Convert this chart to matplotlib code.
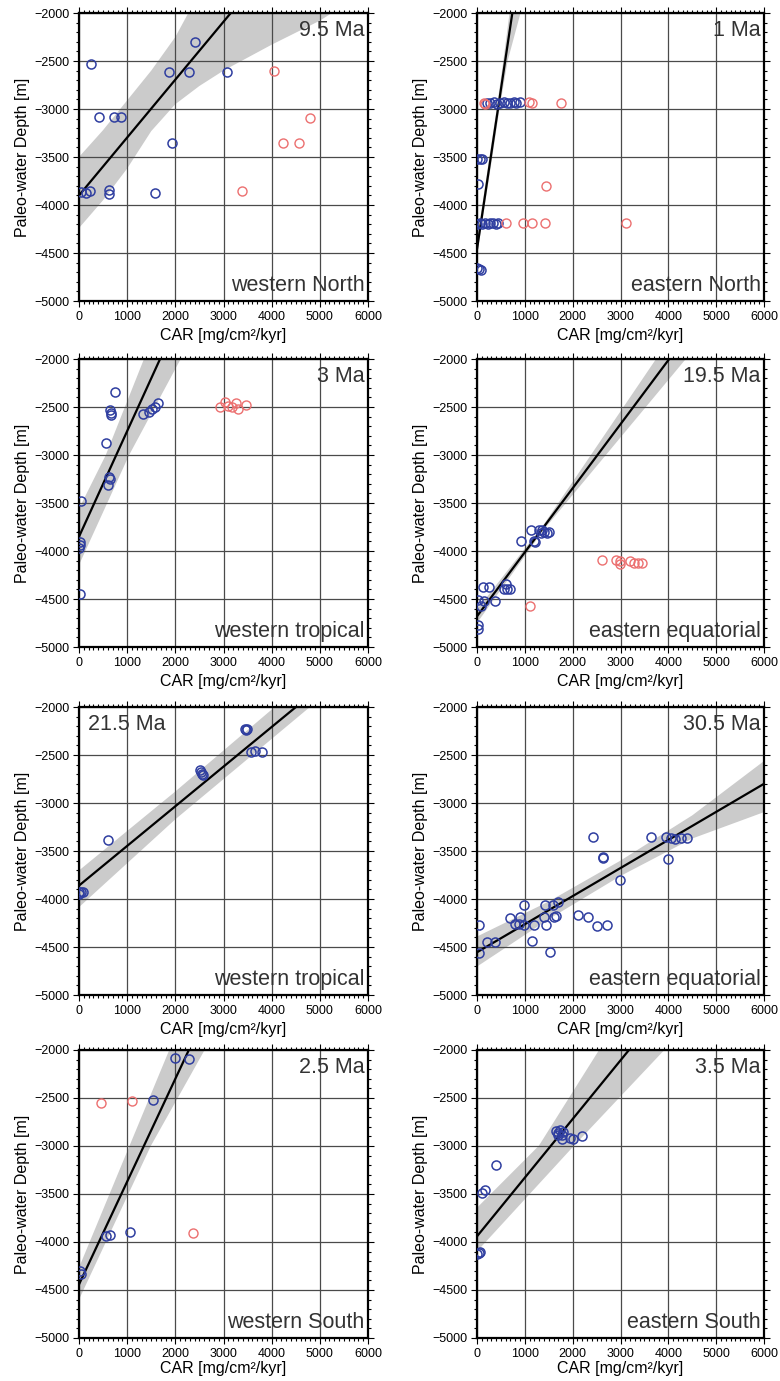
import numpy as np
import matplotlib
matplotlib.use("Agg")
import matplotlib.pyplot as plt
from matplotlib.ticker import MultipleLocator

plt.rcParams['font.family'] = ['Liberation Sans', 'DejaVu Sans']

BLUE = '#2f3ea0'
RED = '#ec6f6f'
BAND = '#cbcbcb'
TXT = '#333333'

# ---- 9.5 Ma, western North
p1_blue_x = [259, 410, 717, 874, 1863, 2294, 3065, 2410, 1932, 1577, 614, 628, 34, 137, 225]
p1_blue_y = [-2534, -3086, -3086, -3086, -2614, -2610, -2614, -2303, -3359, -3872, -3845, -3883, -3862, -3879, -3855]
p1_red_x = [4055, 4799, 4232, 4573, 3379]
p1_red_y = [-2607, -3090, -3359, -3359, -3852]
p1_fit = (-3900, 0.603)
p1_up_x = [0, 500, 1000, 1500, 2000, 2270]
p1_up_y = [-3500, -3220, -2910, -2600, -2250, -2000]
p1_lo_x = [0, 500, 1000, 1500, 2000, 2500, 3000, 4000, 5000, 5250]
p1_lo_y = [-4240, -3950, -3620, -3230, -2950, -2760, -2600, -2330, -2080, -2000]

# ---- 1 Ma, eastern North
p2_blue_x = [210, 280, 350, 420, 490, 560, 630, 700, 770, 825, 895,
             0, 70, 105, 21,
             0, 56, 112, 168, 224, 280, 336, 392, 440,
             0, 35, 84]
p2_blue_y = [-2935, -2940, -2930, -2945, -2935, -2925, -2940, -2935, -2930, -2935, -2925,
             -3517, -3517, -3525, -3778,
             -4200, -4188, -4195, -4185, -4195, -4190, -4185, -4195, -4192,
             -4660, -4667, -4674]
p2_red_x = [140, 165, 1084, 1154, 1762, 1434, 615, 965, 1154, 1420, 3119]
p2_red_y = [-2938, -2945, -2927, -2937, -2937, -3799, -4192, -4192, -4192, -4192, -4192]
p2_fit = (-4460, 3.33)
p2_up_x = [-40, 260, 410, 550, 680]
p2_up_y = [-4500, -3500, -3000, -2500, -2000]
p2_lo_x = [10, 320, 470, 640, 910]
p2_lo_y = [-4500, -3500, -3000, -2500, -2000]

# ---- 3 Ma, western tropical
p3_blue_x = [747, 644, 657, 671, 567, 623, 644, 602, 35, 21, 21, 0, 21,
             1336, 1453, 1509, 1578, 1633]
p3_blue_y = [-2346, -2536, -2564, -2588, -2872, -3228, -3253, -3315, -3478, -3910, -3938, -3972, -4446,
             -2578, -2554, -2526, -2502, -2460]
p3_red_x = [2931, 3034, 3103, 3186, 3255, 3310, 3476]
p3_red_y = [-2498, -2450, -2491, -2505, -2457, -2519, -2474]
p3_fit = (-3851, 1.100)
p3_up_x = [0, 554, 1349]
p3_up_y = [-3560, -3003, -2000]
p3_lo_x = [0, 1038, 2111]
p3_lo_y = [-4145, -3003, -2000]

# ---- 19.5 Ma, eastern equatorial
p4_blue_x = [1119, 912, 1188, 1222, 1291, 1360, 1409, 1464, 1347, 1500,
             117, 255, 566, 600, 635, 690, 373, 28, 145, 83, 28, 28]
p4_blue_y = [-3782, -3894, -3894, -3904, -3782, -3785, -3800, -3817, -3810, -3800,
             -4374, -4374, -4391, -4346, -4391, -4391, -4520, -4513, -4520, -4576, -4774, -4808]
p4_red_x = [1105, 2617, 2914, 2983, 2997, 3190, 3273, 3363, 3446]
p4_red_y = [-4576, -4095, -4095, -4102, -4137, -4102, -4120, -4130, -4130]
p4_fit = (-4680, 0.667)
p4_up_x = [0, 1400, 3743]
p4_up_y = [-4610, -3720, -2000]
p4_lo_x = [0, 1400, 4365]
p4_lo_y = [-4750, -3775, -2000]

# ---- 21.5 Ma, western tropical
p5_blue_x = [0, 45, 90, 0, 599, 2516, 2530, 2551, 2578, 3436, 3484, 3470, 3561, 3645, 3798]
p5_blue_y = [-3922, -3922, -3922, -3947, -3390, -2660, -2678, -2695, -2712, -2226, -2226, -2240, -2466, -2460, -2466]
p5_red_x = []
p5_red_y = []
p5_fit = (-3860, 0.413)
p5_up_x = [0, 2000, 4063]
p5_up_y = [-3703, -2880, -2000]
p5_lo_x = [0, 2000, 4794]
p5_lo_y = [-4085, -3170, -2000]

# ---- 30.5 Ma, eastern equatorial
p6_blue_x = [35, 35, 209, 383, 696, 800, 870, 905, 974, 974, 1183, 1148, 1392, 1413, 1440, 1517,
             1580, 1600, 1649, 1691, 2108, 2331, 2505, 2714, 2422, 2624, 2640, 2992,
             3640, 3953, 4057, 4141, 4266, 4398, 4001]
p6_blue_y = [-4270, -4562, -4450, -4444, -4193, -4259, -4259, -4190, -4058, -4266, -4270, -4433, -4190, -4058, -4273, -4555,
             -4058, -4183, -4180, -4035, -4165, -4190, -4283, -4276, -3349, -3564, -3570, -3800,
             -3356, -3356, -3366, -3373, -3366, -3366, -3580]
p6_red_x = []
p6_red_y = []
p6_fit = (-4555, 0.2925)
p6_up_x = [0, 1500, 3000, 4500, 6000]
p6_up_y = [-4391, -4026, -3600, -3129, -2563]
p6_lo_x = [0, 1500, 3000, 4500, 6000]
p6_lo_y = [-4704, -4210, -3760, -3370, -3095]

# ---- 2.5 Ma, western South
p7_blue_x = [2000, 2294, 1545, 566, 636, 1056, 21, 35]
p7_blue_y = [-2080, -2094, -2523, -3936, -3925, -3901, -4302, -4337]
p7_red_x = [462, 1105, 2364]
p7_red_y = [-2548, -2527, -3908]
p7_fit = (-4442, 1.071)
p7_up_x = [0, 1047, 1874]
p7_up_y = [-4267, -3000, -2000]
p7_lo_x = [0, 1490, 2608]
p7_lo_y = [-4599, -3000, -2000]

# ---- 3.5 Ma, eastern South
p8_blue_x = [56, 7, 40, 112, 161, 406, 1643, 1685, 1734, 1769, 1769, 1804, 1700, 1944, 2000, 2189]
p8_blue_y = [-4100, -4128, -4110, -3493, -3458, -3193, -2844, -2882, -2837, -2889, -2931, -2854, -2860, -2917, -2924, -2896]
p8_red_x = []
p8_red_y = []
p8_fit = (-3941, 0.611)
p8_up_x = [0, 1294, 2552]
p8_up_y = [-3643, -2997, -2000]
p8_lo_x = [0, 2028, 3916]
p8_lo_y = [-4098, -2997, -2000]

ages = ['9.5 Ma', '1 Ma', '3 Ma', '19.5 Ma', '21.5 Ma', '30.5 Ma', '2.5 Ma', '3.5 Ma']
regions = ['western North', 'eastern North', 'western tropical', 'eastern equatorial',
           'western tropical', 'eastern equatorial', 'western South', 'eastern South']

panels = [
    (p1_blue_x, p1_blue_y, p1_red_x, p1_red_y, p1_fit, p1_up_x, p1_up_y, p1_lo_x, p1_lo_y),
    (p2_blue_x, p2_blue_y, p2_red_x, p2_red_y, p2_fit, p2_up_x, p2_up_y, p2_lo_x, p2_lo_y),
    (p3_blue_x, p3_blue_y, p3_red_x, p3_red_y, p3_fit, p3_up_x, p3_up_y, p3_lo_x, p3_lo_y),
    (p4_blue_x, p4_blue_y, p4_red_x, p4_red_y, p4_fit, p4_up_x, p4_up_y, p4_lo_x, p4_lo_y),
    (p5_blue_x, p5_blue_y, p5_red_x, p5_red_y, p5_fit, p5_up_x, p5_up_y, p5_lo_x, p5_lo_y),
    (p6_blue_x, p6_blue_y, p6_red_x, p6_red_y, p6_fit, p6_up_x, p6_up_y, p6_lo_x, p6_lo_y),
    (p7_blue_x, p7_blue_y, p7_red_x, p7_red_y, p7_fit, p7_up_x, p7_up_y, p7_lo_x, p7_lo_y),
    (p8_blue_x, p8_blue_y, p8_red_x, p8_red_y, p8_fit, p8_up_x, p8_up_y, p8_lo_x, p8_lo_y),
]

W, H = 780, 1381
fig = plt.figure(figsize=(W / 100, H / 100), dpi=100)

col_left = [79, 477]
col_width = [289, 287]
row_top = [13, 359, 707, 1050]
ax_h = 288

for i, (bx, by, rx, ry, fit, ux, uy, lx, ly) in enumerate(panels):
    r, c = divmod(i, 2)
    ax = fig.add_axes([col_left[c] / W, (H - row_top[r] - ax_h) / H,
                       col_width[c] / W, ax_h / H])

    # confidence band of the fit
    poly_x = np.concatenate([ux, lx[::-1]])
    poly_y = np.concatenate([uy, ly[::-1]])
    ax.fill(poly_x, poly_y, color=BAND, lw=0, zorder=1)

    # regression line
    xx = np.array([0, 6000])
    ax.plot(xx, fit[0] + fit[1] * xx, color='black', lw=1.6, zorder=2)

    ax.plot(bx, by, ls='none', marker='o', ms=6.5, mfc='none', mec=BLUE, mew=1.1, zorder=3)
    if len(rx):
        ax.plot(rx, ry, ls='none', marker='o', ms=6.5, mfc='none', mec=RED, mew=1.0, zorder=3)

    ax.set_xlim(0, 6000)
    ax.set_ylim(-5000, -2000)
    ax.xaxis.set_major_locator(MultipleLocator(1000))
    ax.xaxis.set_minor_locator(MultipleLocator(100))
    ax.yaxis.set_major_locator(MultipleLocator(500))
    ax.yaxis.set_minor_locator(MultipleLocator(100))
    ax.set_axisbelow('line')
    ax.grid(True, which='major', color='#4a4a4a', lw=0.9)
    ax.tick_params(which='both', direction='out', top=True, right=True, labelsize=9, width=0.8)
    ax.tick_params(which='major', length=4, pad=3)
    ax.tick_params(which='minor', length=2)
    for s in ax.spines.values():
        s.set_linewidth(1.6)

    ax.set_xlabel('CAR [mg/cm²/kyr]', fontsize=11.5, labelpad=(1 if r == 3 else 4))
    ax.set_ylabel('Paleo-water Depth [m]', fontsize=11.5, labelpad=3)

    if i == 4:
        ax.text(0.03, 0.975, ages[i], transform=ax.transAxes, ha='left', va='top',
                fontsize=15.5, color=TXT, zorder=4)
    else:
        ax.text(0.988, 0.975, ages[i], transform=ax.transAxes, ha='right', va='top',
                fontsize=15.5, color=TXT, zorder=4)
    ax.text(0.988, 0.018, regions[i], transform=ax.transAxes, ha='right', va='bottom',
            fontsize=15.5, color=TXT, zorder=4)

fig.savefig('out.png', dpi=100)
